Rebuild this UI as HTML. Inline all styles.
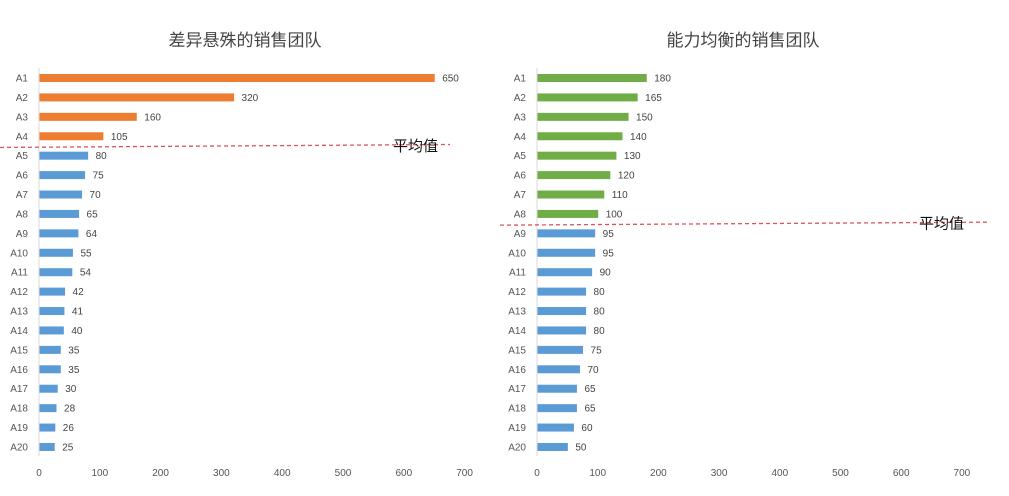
<!DOCTYPE html>
<html><head><meta charset="utf-8"><style>
body{margin:0;background:#fff;}
svg text{font-family:"Liberation Sans","Noto Sans CJK SC",sans-serif;}
</style></head><body>
<svg id="c" width="1009" height="491"></svg>
<script>
const categories=["A1","A2","A3","A4","A5","A6","A7","A8","A9","A10","A11","A12","A13","A14","A15","A16","A17","A18","A19","A20"];
const leftValues=[650,320,160,105,80,75,70,65,64,55,54,42,41,40,35,35,30,28,26,25];
const rightValues=[180,165,150,140,130,120,110,100,95,95,90,80,80,80,75,70,65,65,60,50];
const ticks=[0,100,200,300,400,500,600,700];
const leftAboveCount=4, rightAboveCount=8;
const NS="http://www.w3.org/2000/svg";
const svg=document.getElementById('c');
function mk(t,a,p){const e=document.createElementNS(NS,t);for(const k in a)e.setAttribute(k,a[k]);(p||svg).appendChild(e);return e;}
function panel(o){
  const g=mk('g',{});
  
  
  const x=v=>o.x0+v*o.k;
  const y=i=>78+i*19.42;
  const t=mk('text',{x:o.tx,y:46,'font-size':17,fill:'#444','text-anchor':'middle'},g);
  t.textContent=o.title;
  
  
  const ax=mk('line',{x1:o.x0,x2:o.x0,y1:68,y2:456,stroke:'#d9d9d9','stroke-width':1},g);
  
  
  ticks.forEach(v=>{
    const tt=mk('text',{x:x(v),y:476,'font-size':10,fill:'#555','text-anchor':'middle'},g);
    tt.textContent=v;
    
    
  });
  categories.forEach((c,i)=>{
    const v=o.vals[i];
    const cl=mk('text',{x:o.x0-11,y:y(i)+3.5,'font-size':10,fill:'#555','text-anchor':'end'},g);
    cl.textContent=c;
    
    
    const b=mk('rect',{x:o.x0+0.5,y:y(i)-4,width:v*o.k,height:8,fill:i<o.above?o.col:'#5b9bd5'},g);
    
    
    const vl=mk('text',{x:x(v)+8,y:y(i)+3.5,'font-size':10,fill:'#444'},g);
    vl.textContent=v;
    
    
  });
  const ly=(y(o.above-1)+y(o.above))/2;
  const al=mk('line',{x1:o.lx1,x2:o.lx2,y1:ly+1.5,y2:ly-1.5,stroke:'#e0525a','stroke-width':1.3,'stroke-dasharray':'4,3'},g);
  
  
  const at=mk('text',{x:o.atx,y:ly+5,'font-size':15,fill:'#111'},g);
  at.textContent='平均值';
  
  
}
panel({name:'left-chart',title:'差异悬殊的销售团队',tx:245,x0:39,k:0.608,vals:leftValues,above:leftAboveCount,col:'#ed7d31',lx1:0,lx2:450,atx:393});
panel({name:'right-chart',title:'能力均衡的销售团队',tx:743,x0:537,k:0.607,vals:rightValues,above:rightAboveCount,col:'#70ad47',lx1:500,lx2:988,atx:919});
</script>
</body></html>
